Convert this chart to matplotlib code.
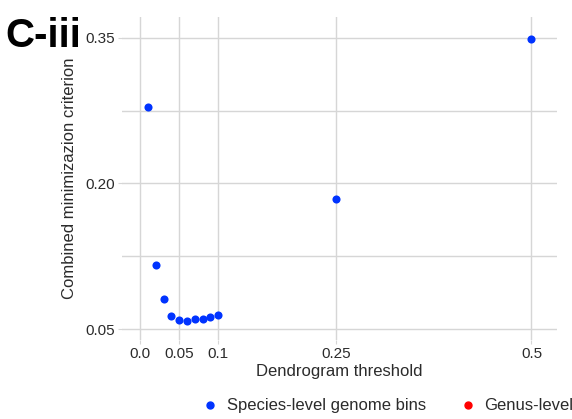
import matplotlib

matplotlib.use("Agg")
import matplotlib.pyplot as plt

plt.rcParams["font.family"] = ["Liberation Sans", "DejaVu Sans"]

thresholds = [0.01, 0.02, 0.03, 0.04, 0.05, 0.06, 0.07, 0.08, 0.09, 0.1, 0.25, 0.5]
criterion = [0.279, 0.116, 0.081, 0.063, 0.059, 0.058, 0.060, 0.060, 0.062, 0.064, 0.184, 0.349]

x_breaks = [0.0, 0.05, 0.1, 0.25, 0.5]
x_labels = ["0.0", "0.05", "0.1", "0.25", "0.5"]
y_breaks = [0.05, 0.20, 0.35]
y_labels = ["0.05", "0.20", "0.35"]
y_minor = [0.125, 0.275]

species_color = "#0033ff"
genus_color = "#ff0000"
grid_color = "#d6d6d6"
text_color = "#2b2b2b"

fig = plt.figure(figsize=(5.72, 4.19), dpi=100)
ax = fig.add_axes([0.2133, 0.1885, 0.7605, 0.7709])

ax.scatter(thresholds, criterion, s=34, color=species_color, zorder=3, linewidths=0)

ax.set_xlim(-0.023, 0.5326)
ax.set_ylim(0.0387, 0.3713)
ax.set_xticks(x_breaks)
ax.set_xticklabels(x_labels)
ax.set_yticks(y_breaks)
ax.set_yticklabels(y_labels)
ax.set_yticks(y_minor, minor=True)

ax.grid(True, which="major", color=grid_color, linewidth=1.0)
ax.grid(True, which="minor", axis="y", color=grid_color, linewidth=1.0)
ax.set_axisbelow(True)
for spine in ax.spines.values():
    spine.set_visible(False)
ax.tick_params(which="major", length=3, color=grid_color, labelsize=11, labelcolor=text_color, pad=2)
ax.tick_params(which="minor", length=0)

ax.set_xlabel("Dendrogram threshold", fontsize=12, color=text_color, labelpad=2)
ax.set_ylabel("Combined minimizazion criterion", fontsize=12, color=text_color, labelpad=6)

fig.text(0.010, 0.915, "C-iii", fontsize=29, fontweight="bold", color="black", va="center", ha="left")

# legend along the bottom, runs past the right edge like the original
leg_y = 1 - 405 / 419
fig.add_artist(plt.Line2D([210 / 572], [leg_y], marker="o", markersize=5, color=species_color, linestyle="none"))
fig.text(227 / 572, leg_y, "Species-level genome bins", fontsize=12, color=text_color, va="center", ha="left")
fig.add_artist(plt.Line2D([467.5 / 572], [leg_y], marker="o", markersize=5, color=genus_color, linestyle="none"))
fig.text(484 / 572, leg_y, "Genus-level", fontsize=12, color=text_color, va="center", ha="left")

fig.savefig("out.png", dpi=100)
